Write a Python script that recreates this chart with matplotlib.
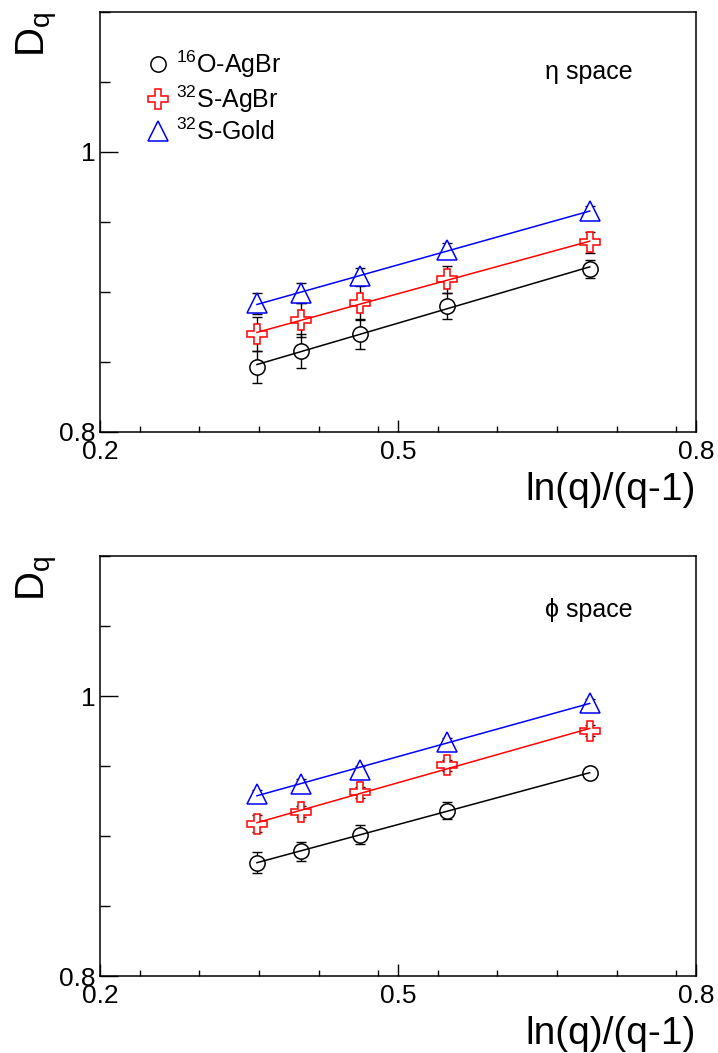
import numpy as np
import matplotlib
matplotlib.use('Agg')
import matplotlib.pyplot as plt
from matplotlib.lines import Line2D
from matplotlib.ticker import MultipleLocator, FixedLocator

plt.rcParams['font.family'] = ['Liberation Sans', 'DejaVu Sans']
plt.rcParams['mathtext.fontset'] = 'custom'
plt.rcParams['mathtext.rm'] = 'Liberation Sans'
plt.rcParams['mathtext.it'] = 'Liberation Sans'

# ln(q)/(q-1) for q = 6, 5, 4, 3, 2
x_vals = [0.358, 0.402, 0.462, 0.549, 0.693]

# eta space
eta_O_AgBr = [0.8465, 0.858, 0.870, 0.890, 0.9165]
eta_O_AgBr_err = [0.0116, 0.012, 0.011, 0.0095, 0.0066]
eta_S_AgBr = [0.870, 0.880, 0.892, 0.909, 0.9355]
eta_S_AgBr_err = [0.012, 0.012, 0.012, 0.0095, 0.0075]
eta_S_Gold = [0.8918, 0.899, 0.911, 0.930, 0.9575]
eta_S_Gold_err = [0.0076, 0.007, 0.006, 0.005, 0.004]

# phi space
phi_O_AgBr = [0.881, 0.889, 0.901, 0.918, 0.945]
phi_O_AgBr_err = [0.0077, 0.007, 0.0068, 0.006, 0.003]
phi_S_AgBr = [0.9087, 0.9174, 0.9312, 0.9504, 0.9753]
phi_S_AgBr_err = [0.006, 0.004, 0.004, 0.004, 0.004]
phi_S_Gold = [0.9302, 0.9374, 0.9468, 0.9668, 0.9952]
phi_S_Gold_err = [0.003, 0.003, 0.003, 0.003, 0.003]

labels = [r'$^{16}$O-AgBr', r'$^{32}$S-AgBr', r'$^{32}$S-Gold']
colors = ['black', '#ff0000', '#0000ff']
markers = ['o', 'P', '^']
msizes = [11, 14, 14]

W, H = 718, 1053
fig = plt.figure(figsize=(W / 100, H / 100), dpi=100)

def panel(top_px, bot_px, series, errs, tag):
    ax = fig.add_axes([100 / W, 1 - bot_px / H, 596 / W, (bot_px - top_px) / H])
    x = np.array(x_vals)
    for y, e, c, m, ms in zip(series, errs, colors, markers, msizes):
        y = np.array(y)
        ax.errorbar(x, y, yerr=e, fmt='none', ecolor='black', elinewidth=1.0,
                    capsize=3.5, capthick=1.0, zorder=2)
        # white face hides the error bar inside the marker
        ax.plot(x, y, ls='none', marker=m, ms=ms, mfc='white', mec=c, mew=1.1, zorder=3)
        k, b = np.polyfit(x, y, 1)
        ax.plot([x[0], x[-1]], [k * x[0] + b, k * x[-1] + b], color=c, lw=1.1, zorder=4)
    ax.set_xlim(0.2, 0.8)
    ax.set_ylim(0.8, 1.1)
    ax.xaxis.set_major_locator(FixedLocator([0.2, 0.5, 0.8]))
    ax.xaxis.set_minor_locator(MultipleLocator(0.06))
    ax.yaxis.set_major_locator(FixedLocator([0.8, 1.0]))
    ax.yaxis.set_minor_locator(MultipleLocator(0.05))
    ax.xaxis.set_major_formatter(plt.FuncFormatter(lambda v, p: '%g' % round(v, 2)))
    ax.yaxis.set_major_formatter(plt.FuncFormatter(lambda v, p: '%g' % round(v, 2)))
    ax.tick_params(axis='both', which='both', direction='in', top=False, right=False,
                   labelsize=19, width=1.0)
    ax.tick_params(axis='x', which='major', length=9, pad=6)
    ax.tick_params(axis='x', which='minor', length=4.5)
    ax.tick_params(axis='y', which='major', length=13, pad=3)
    ax.tick_params(axis='y', which='minor', length=7)
    for s in ax.spines.values():
        s.set_linewidth(1.1)
    ax.text(1.0, -0.095, 'ln(q)/(q-1)', transform=ax.transAxes, ha='right', va='top',
            fontsize=28)
    ax.text(-0.107, 1.0, r'D$_{\mathrm{q}}$', transform=ax.transAxes, ha='center',
            va='top', rotation=90, fontsize=29)
    ax.text(0.82, tag[1], tag[0], transform=ax.transAxes, ha='center', va='center',
            fontsize=18)
    return ax

ax1 = panel(11.7, 432, [eta_O_AgBr, eta_S_AgBr, eta_S_Gold],
            [eta_O_AgBr_err, eta_S_AgBr_err, eta_S_Gold_err], ('\u03b7 space', 0.857))
handles = [Line2D([], [], ls='none', marker=m, ms=ms, mfc='none', mec=c, mew=1.1)
           for c, m, ms in zip(colors, markers, msizes)]
ax1.legend(handles, labels, loc='upper left', bbox_to_anchor=(0.047, 0.955), frameon=False,
           fontsize=18, handlelength=1.0, handletextpad=0.2, labelspacing=0.15,
           borderpad=0.2)

ax2 = panel(556, 976, [phi_O_AgBr, phi_S_AgBr, phi_S_Gold],
            [phi_O_AgBr_err, phi_S_AgBr_err, phi_S_Gold_err], ('\u03d5 space', 0.872))

fig.savefig('out.png', dpi=100)
